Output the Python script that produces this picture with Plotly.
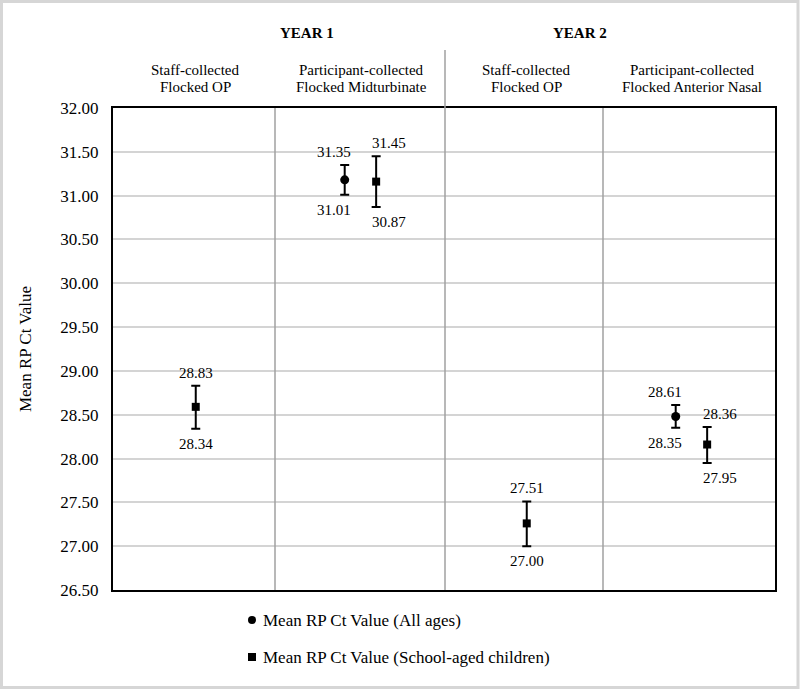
import plotly.graph_objects as go

# ---------------- data ----------------
years = ["YEAR 1", "YEAR 2"]
cat_line1 = ["Staff-collected", "Participant-collected", "Staff-collected", "Participant-collected"]
cat_line2 = ["Flocked OP", "Flocked Midturbinate", "Flocked OP", "Flocked Anterior Nasal"]
cat_idx = [0, 1, 2, 3]

all_mean = [None, 31.18, None, 28.48]
all_lo = [None, 31.01, None, 28.35]
all_hi = [None, 31.35, None, 28.61]

sch_mean = [28.59, 31.16, 27.26, 28.16]
sch_lo = [28.34, 30.87, 27.00, 27.95]
sch_hi = [28.83, 31.45, 27.51, 28.36]

y_ticks = [26.5, 27.0, 27.5, 28.0, 28.5, 29.0, 29.5, 30.0, 30.5, 31.0, 31.5, 32.0]

series_names = ["Mean RP Ct Value (All ages)", "Mean RP Ct Value (School-aged children)"]

# ---------------- layout geometry ----------------
W, H = 800, 689
L, R, T, B = 113, 775, 108, 590
FONT = "Liberation Serif"


def px(x):
    return (x - L) / (R - L)


def py(y):
    return (B - y) / (B - T)


paired = [a is not None for a in all_mean]
x_all = [i - 0.10 for i, p in zip(cat_idx, paired) if p]
x_sch = [i + 0.09 if p else i for i, p in zip(cat_idx, paired)]

fig = go.Figure()

am = [v for v in all_mean if v is not None]
alo = [v for v in all_lo if v is not None]
ahi = [v for v in all_hi if v is not None]
fig.add_trace(go.Scatter(
    x=x_all, y=am, mode="markers", name=series_names[0],
    marker=dict(symbol="circle", size=9, color="black"),
    error_y=dict(type="data", symmetric=False,
                 array=[h - m for h, m in zip(ahi, am)],
                 arrayminus=[m - lo for m, lo in zip(am, alo)],
                 color="black", thickness=2, width=4.5),
    showlegend=False,
))
fig.add_trace(go.Scatter(
    x=x_sch, y=sch_mean, mode="markers", name=series_names[1],
    marker=dict(symbol="square", size=8, color="black"),
    error_y=dict(type="data", symmetric=False,
                 array=[h - m for h, m in zip(sch_hi, sch_mean)],
                 arrayminus=[m - lo for m, lo in zip(sch_mean, sch_lo)],
                 color="black", thickness=2, width=4.5),
    showlegend=False,
))

annotations = []
lab_font = dict(family=FONT, size=15, color="black")
# data labels
for xa, hi, lo in zip(x_all, ahi, alo):
    annotations.append(dict(x=xa, y=hi, text=f"{hi:.2f}", showarrow=False, xshift=-11, yshift=13,
                            yanchor="middle", font=lab_font))
    annotations.append(dict(x=xa, y=lo, text=f"{lo:.2f}", showarrow=False, xshift=-11, yshift=-15,
                            yanchor="middle", font=lab_font))
for xs, hi, lo, p in zip(x_sch, sch_hi, sch_lo, paired):
    sh = 13 if p else 0
    annotations.append(dict(x=xs, y=hi, text=f"{hi:.2f}", showarrow=False, xshift=sh, yshift=13,
                            yanchor="middle", font=lab_font))
    annotations.append(dict(x=xs, y=lo, text=f"{lo:.2f}", showarrow=False, xshift=sh, yshift=-15,
                            yanchor="middle", font=lab_font))

# header labels
for i, l1, l2 in zip(cat_idx, cat_line1, cat_line2):
    annotations.append(dict(x=i, y=py(70), yref="paper", text=l1, showarrow=False,
                            yanchor="middle", font=lab_font))
    annotations.append(dict(x=i, y=py(87), yref="paper", text=l2, showarrow=False,
                            yanchor="middle", font=lab_font))
for k, yr in enumerate(years):
    annotations.append(dict(x=px(278 if k == 0 else 609), xref="paper", y=py(33), yref="paper",
                            text=f"<b>{yr}</b>", showarrow=False, yanchor="middle", font=lab_font))

# legend (manual)
leg_font = dict(family=FONT, size=17, color="black")
for k, (name, yy) in enumerate(zip(series_names, [620, 657])):
    annotations.append(dict(x=px(261), xref="paper", y=py(yy), yref="paper", text=name,
                            showarrow=False, xanchor="left", yanchor="middle", font=leg_font))

shapes = []
# dividers
for xd, ytop in [(275, T), (445, 50), (603, T)]:
    shapes.append(dict(type="line", xref="paper", yref="paper", x0=px(xd), x1=px(xd),
                       y0=0, y1=py(ytop), line=dict(color="#a0a0a0", width=1.5)))
# legend markers
shapes.append(dict(type="circle", xref="paper", yref="paper", x0=px(248), x1=px(256),
                   y0=py(624), y1=py(616), fillcolor="black", line=dict(width=0)))
shapes.append(dict(type="rect", xref="paper", yref="paper", x0=px(248), x1=px(256),
                   y0=py(661), y1=py(653), fillcolor="black", line=dict(width=0)))
# outer frame
shapes.append(dict(type="rect", xref="paper", yref="paper", x0=px(1.5), x1=px(798),
                   y0=py(687.5), y1=py(1.5), line=dict(color="#d6d6d6", width=3)))

fig.update_layout(
    width=W, height=H,
    margin=dict(l=L, r=W - R, t=T, b=H - B),
    paper_bgcolor="white", plot_bgcolor="white",
    font=dict(family=FONT, size=17, color="black"),
    annotations=annotations, shapes=shapes,
    xaxis=dict(range=[-0.5, 3.5], showticklabels=False, showgrid=False, zeroline=False,
               showline=True, mirror=True, linecolor="black", linewidth=2, ticks=""),
    yaxis=dict(range=[26.5, 32.0], tickvals=y_ticks, tickformat=".2f", showgrid=True,
               gridcolor="#d4d4d4", gridwidth=1.5, zeroline=False,
               showline=True, mirror=True, linecolor="black", linewidth=2, ticks="",
               ticklabelstandoff=9,
               tickfont=dict(family=FONT, size=17, color="black"),
               title=dict(text="Mean RP Ct Value", font=dict(family=FONT, size=17), standoff=24)),
)

fig.write_html("out.html", config={"displayModeBar": False},
               post_script="document.body.style.margin='0';")
